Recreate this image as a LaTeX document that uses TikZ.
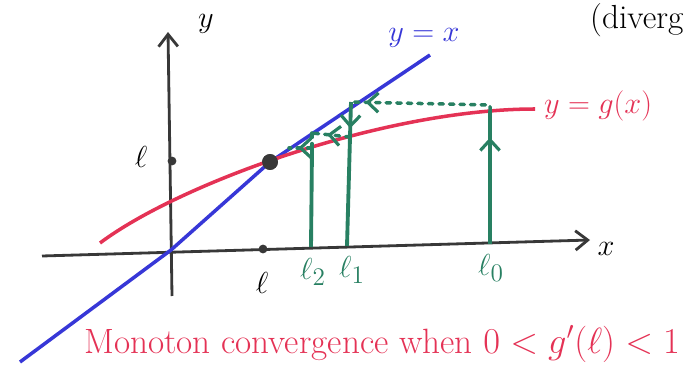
\documentclass[tikz,border=0pt]{standalone}
\usepackage{amsmath}
\usepackage{xcolor}
\usetikzlibrary{arrows.meta, decorations.markings}
\definecolor{idline}{RGB}{55, 55, 215}
\definecolor{gline}{RGB}{228, 50, 85}
\definecolor{iter}{RGB}{40, 128, 98}
\definecolor{axisline}{gray}{0.22}

\begin{document}
\begin{tikzpicture}[x=0.02cm, y=-0.02cm,
		axis/.style={axisline, line width=1.6pt, -{Straight Barb[length=7pt, width=11pt]}},
		idcurve/.style={idline, line width=2pt, line join=round},
		gcurve/.style={gline, line width=2pt},
		iterline/.style={iter, line width=2.2pt},
		iterdot/.style={iter, line width=2pt, line cap=round, dash pattern=on 2.5pt off 3.5pt},
		midarrow/.style={postaction={decorate}, decoration={markings,
				mark=at position #1 with {\arrow[iter, solid, line width=1.8pt]{Straight Barb[length=6pt, width=11pt]}}}},
		dot/.style={circle, fill=axisline, inner sep=0pt, minimum size=#1},
		lab/.style={font=\fontsize{19}{22}\selectfont}]
			\useasboundingbox (0,0) rectangle (685,371);
			% axes
			\coordinate (O) at (171,250);
			\coordinate (xs) at (42,256);
			\coordinate (xe) at (590,240);
			\coordinate (ys) at (172,296);
			\coordinate (ye) at (168,32);
			\draw[axis] (xs) -- (xe);
			\draw[axis] (ys) -- (ye);
			\node[lab] (xlab) at (606,249) {$x$};
			\node[lab] (ylab) at (206,24) {$y$};

			% fixed point
			\node[dot=9pt] (fp) at (270,162) {};
			\node[dot=5pt] (fpy) at (172,161) {};
			\node[dot=5pt] (fpx) at (263,249) {};
			\node[lab] (fpylab) at (141,157) {$\ell$};
			\node[lab] (fpxlab) at (262,283) {$\ell$};

			% y = x and y = g(x)
			\coordinate (bs) at (20,362);
			\coordinate (be) at (430,55);
			\coordinate (gs) at (100,243);
			\coordinate (ge) at (535,109);
			\draw[idcurve] (bs) -- (O) -- (fp.center) -- (be);
			\draw[gcurve] (gs) .. controls (180,183) and (385,109) .. (ge);
			\node[lab, idline, font=\fontsize{16}{19}\selectfont] (idlab) at (424,38) {$y=x$};
			\node[lab, gline] (glab) at (598,106) {$y=g(x)$};
			\node[dot=9pt] at (fp) {};

			% iterates
			\coordinate (a0) at (490,244);
			\coordinate (g0) at (490,111);
			\coordinate (b0) at (351,102);
			\coordinate (a1) at (347,246);
			\coordinate (g1) at (350,137);
			\coordinate (b1) at (312,133);
			\coordinate (a2) at (311,247);
			\coordinate (g2) at (312,148);
			\coordinate (b2) at (289,148);
			\draw[iterline, midarrow=0.8] (a0) -- (g0);
			\draw[iterdot, midarrow=0.9] (g0) -- ++(0,-6) -- (b0);
			\draw[iterline] (a1) -- (g1);
			\draw[iterline, midarrow=0.75] (b0) -- (g1);
			\draw[iterdot, midarrow=0.6] (g1) -- (b1);
			\draw[iterline] (a2) -- (g2);
			\draw[iterdot] (b1) -- (g2);
			\draw[iterdot, midarrow=0.6] (g2) -- (b2);

			\node[lab, iter] (p0lab) at (491,268) {$\ell_0$};
			\node[lab, iter] (p1lab) at (352,270) {$\ell_1$};
			\node[lab, iter] (p2lab) at (313,272) {$\ell_2$};

			% notes
			\node[lab, gline, font=\fontsize{20}{24}\selectfont] (note) at (382,344) {Monoton convergence when $0<g'(\ell)<1$};
			\node[lab, anchor=west] (divlab) at (584,20) {(diverg};
		\end{tikzpicture}
\end{document}
